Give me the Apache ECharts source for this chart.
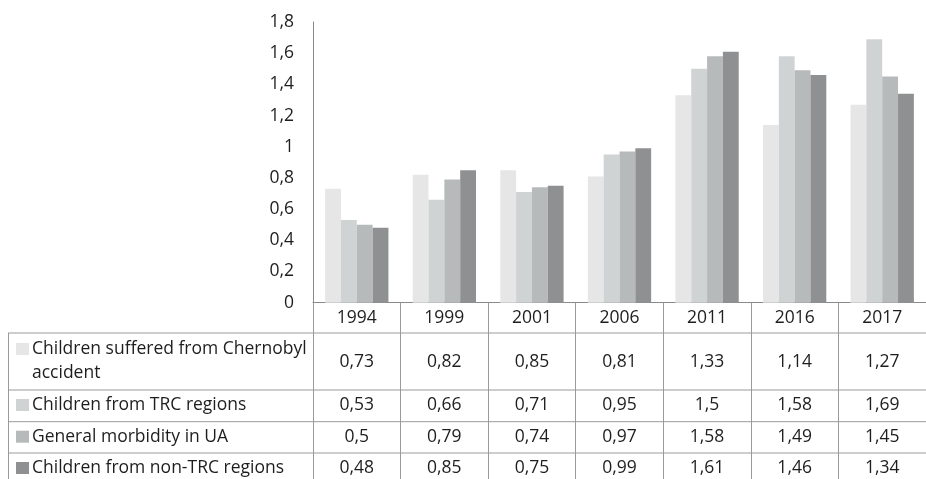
<!DOCTYPE html>
<html>
<head>
<meta charset="utf-8">
<script src="https://cdn.jsdelivr.net/npm/echarts@6/dist/echarts.min.js"></script>
<style>
html,body{margin:0;padding:0;background:#fff;}
#chart{width:926px;height:479px;}
</style>
</head>
<body>
<div id="chart"></div>
<script>
const years = ['1994','1999','2001','2006','2011','2016','2017'];
const seriesNames = [
  'Children suffered from Chernobyl\naccident',
  'Children from TRC regions',
  'General morbidity in UA',
  'Children from non-TRC regions'
];
const chernobyl = [0.73, 0.82, 0.85, 0.81, 1.33, 1.14, 1.27];
const trc       = [0.53, 0.66, 0.71, 0.95, 1.5, 1.58, 1.69];
const general   = [0.5, 0.79, 0.74, 0.97, 1.58, 1.49, 1.45];
const nonTrc    = [0.48, 0.85, 0.75, 0.99, 1.61, 1.46, 1.34];
const yTicks = {min: 0, max: 1.8, interval: 0.2};

const allSeries = [chernobyl, trc, general, nonTrc];
const colors = ['#e6e6e6', '#d0d3d4', '#b7babb', '#8f9092'];
const FONT = '"Open Sans", sans-serif';
const FS = 17.5;
const TXT = '#1e1e1e';
const LINE = '#9a9a9a';

const fmt = v => String(Math.round(v * 100) / 100).replace('.', ',');

const axisY = 302.7;
const rowLabelCenters = [361.7, 405, 436.7, 468];
const rowLines = [333, 390, 421.7, 453];

const xAxes = [{
  type: 'category',
  data: years,
  gridIndex: 0,
  position: 'bottom',
  axisLine: {show: true, lineStyle: {color: '#8a8a8a', width: 1}},
  axisTick: {show: true, length: 180, lineStyle: {color: LINE, width: 1}},
  axisLabel: {interval: 0, margin: 5, color: TXT, fontFamily: FONT, fontSize: FS, lineHeight: 20}
}];
allSeries.forEach((arr, i) => {
  xAxes.push({
    type: 'category',
    data: years,
    gridIndex: 0,
    position: 'bottom',
    offset: rowLabelCenters[i] - axisY - 10,
    axisLine: {show: false},
    axisTick: {show: false},
    axisLabel: {
      interval: 0, margin: 0, color: TXT, fontFamily: FONT, fontSize: FS, lineHeight: 20,
      formatter: (val, idx) => fmt(arr[idx])
    }
  });
});

const graphics = [];
rowLines.forEach(y => {
  graphics.push({type: 'line', silent: true, shape: {x1: 8, y1: y, x2: 926, y2: y},
    style: {stroke: LINE, lineWidth: 1}});
});
graphics.push({type: 'line', silent: true, shape: {x1: 8.5, y1: 333, x2: 8.5, y2: 479},
  style: {stroke: LINE, lineWidth: 1}});
const keyCenters = [349, 405, 436.7, 468];
const textCenters = [361, 405, 436.7, 468];
seriesNames.forEach((name, i) => {
  graphics.push({type: 'rect', silent: true,
    shape: {x: 16, y: keyCenters[i] - 6, width: 13, height: 12},
    style: {fill: colors[i]}});
  graphics.push({type: 'text', silent: true, x: 32, y: textCenters[i],
    style: {text: name, font: FS + 'px ' + FONT, fill: TXT, verticalAlign: 'middle', align: 'left', lineHeight: 24}});
});

const chart = echarts.init(document.getElementById('chart'), null, {renderer: 'canvas'});
chart.setOption({
  animation: false,
  backgroundColor: '#ffffff',
  grid: {left: 313, top: 22, width: 619.5, height: axisY - 22, containLabel: false},
  xAxis: xAxes,
  yAxis: {
    type: 'value',
    min: yTicks.min, max: yTicks.max, interval: yTicks.interval,
    axisLine: {show: true, lineStyle: {color: '#8a8a8a', width: 1}},
    axisTick: {show: false},
    splitLine: {show: false},
    axisLabel: {margin: 19, color: TXT, fontFamily: FONT, fontSize: FS, formatter: v => fmt(v)}
  },
  series: allSeries.map((arr, i) => ({
    type: 'bar',
    name: seriesNames[i],
    data: arr,
    xAxisIndex: 0,
    yAxisIndex: 0,
    barGap: '0%',
    barCategoryGap: '27.7%',
    itemStyle: {color: colors[i]}
  })),
  graphic: graphics
});
</script>
</body>
</html>
